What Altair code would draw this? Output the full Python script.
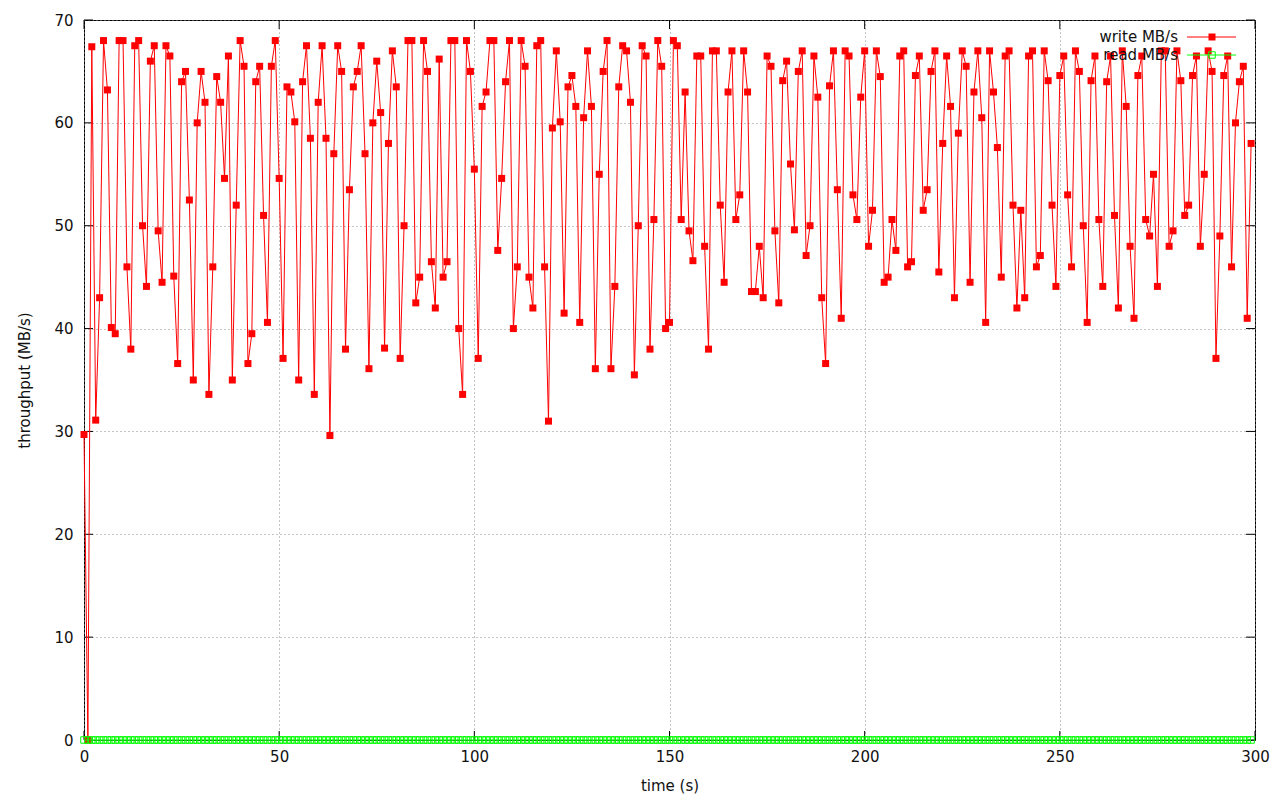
import altair as alt
import pandas as pd

# ---- data ----
time_s = list(range(300))

write_mbs = [
    29.7, 0, 67.4, 31.1, 43, 68, 63.2, 40.1, 39.5, 68,
    68, 46, 38, 67.5, 68, 50, 44.1, 66, 67.5, 49.5,
    44.5, 67.5, 66.5, 45.1, 36.6, 64, 65, 52.5, 35, 60,
    65, 62, 33.6, 46, 64.5, 62, 54.6, 66.5, 35, 52,
    68, 65.5, 36.6, 39.5, 64, 65.5, 51, 40.6, 65.5, 68,
    54.6, 37.1, 63.5, 63, 60.1, 35, 64, 67.5, 58.5, 33.6,
    62, 67.5, 58.5, 29.6, 57, 67.5, 65, 38, 53.5, 63.5,
    65, 67.5, 57, 36.1, 60, 66, 61, 38.1, 58, 67,
    63.5, 37.1, 50, 68, 68, 42.5, 45, 68, 65, 46.5,
    42, 66.2, 45, 46.5, 68, 68, 40, 33.6, 68, 65,
    55.5, 37.1, 61.6, 63, 68, 68, 47.6, 54.6, 64, 68,
    40, 46, 68, 65.5, 45, 42, 67.5, 68, 46, 31,
    59.5, 67, 60.1, 41.5, 63.5, 64.6, 61.6, 40.6, 60.5, 67,
    61.6, 36.1, 55, 65, 68, 36.1, 44.1, 63.5, 67.5, 67,
    62, 35.5, 50, 67.5, 66.5, 38, 50.6, 68, 65.5, 40,
    40.6, 68, 67.5, 50.6, 63, 49.5, 46.6, 66.5, 66.5, 48,
    38, 67, 67, 52, 44.5, 63, 67, 50.6, 53, 67,
    63, 43.6, 43.6, 48, 43, 66.5, 65.5, 49.5, 42.5, 64.1,
    66, 56, 49.6, 65, 67, 47.1, 50, 66.5, 62.5, 43,
    36.6, 63.6, 67, 53.5, 41, 67, 66.5, 53, 50.6, 62.5,
    67, 48, 51.5, 67, 64.5, 44.5, 45, 50.6, 47.6, 66.5,
    67, 46, 46.5, 64.6, 66.5, 51.5, 53.5, 65, 67, 45.5,
    58, 66.5, 61.6, 43, 59, 67, 65.5, 44.5, 63, 67,
    60.5, 40.6, 67, 63, 57.6, 45, 66.5, 67, 52, 42,
    51.5, 43, 66.5, 67, 46, 47.1, 67, 64.1, 52, 44.1,
    64.6, 66.5, 53, 46, 67, 65, 50, 40.6, 64.1, 66.5,
    50.6, 44.1, 64, 66.5, 51, 42, 67, 61.6, 48, 41,
    64.6, 66.5, 50.6, 49, 55, 44.1, 67, 67, 48, 49.5,
    67, 64.1, 51, 52, 64.6, 66.5, 48, 55, 67, 65,
    37.1, 49, 64.6, 66.5, 46, 60, 64, 65.5, 41, 58,
]

read_mbs = [
    0, 0, 0, 0, 0, 0, 0, 0, 0, 0, 0, 0, 0, 0, 0, 0, 0, 0, 0, 0, 0, 0, 0, 0, 0, 0, 0, 0, 0, 0,
    0, 0, 0, 0, 0, 0, 0, 0, 0, 0, 0, 0, 0, 0, 0, 0, 0, 0, 0, 0, 0, 0, 0, 0, 0, 0, 0, 0, 0, 0,
    0, 0, 0, 0, 0, 0, 0, 0, 0, 0, 0, 0, 0, 0, 0, 0, 0, 0, 0, 0, 0, 0, 0, 0, 0, 0, 0, 0, 0, 0,
    0, 0, 0, 0, 0, 0, 0, 0, 0, 0, 0, 0, 0, 0, 0, 0, 0, 0, 0, 0, 0, 0, 0, 0, 0, 0, 0, 0, 0, 0,
    0, 0, 0, 0, 0, 0, 0, 0, 0, 0, 0, 0, 0, 0, 0, 0, 0, 0, 0, 0, 0, 0, 0, 0, 0, 0, 0, 0, 0, 0,
    0, 0, 0, 0, 0, 0, 0, 0, 0, 0, 0, 0, 0, 0, 0, 0, 0, 0, 0, 0, 0, 0, 0, 0, 0, 0, 0, 0, 0, 0,
    0, 0, 0, 0, 0, 0, 0, 0, 0, 0, 0, 0, 0, 0, 0, 0, 0, 0, 0, 0, 0, 0, 0, 0, 0, 0, 0, 0, 0, 0,
    0, 0, 0, 0, 0, 0, 0, 0, 0, 0, 0, 0, 0, 0, 0, 0, 0, 0, 0, 0, 0, 0, 0, 0, 0, 0, 0, 0, 0, 0,
    0, 0, 0, 0, 0, 0, 0, 0, 0, 0, 0, 0, 0, 0, 0, 0, 0, 0, 0, 0, 0, 0, 0, 0, 0, 0, 0, 0, 0, 0,
    0, 0, 0, 0, 0, 0, 0, 0, 0, 0, 0, 0, 0, 0, 0, 0, 0, 0, 0, 0, 0, 0, 0, 0, 0, 0, 0, 0, 0, 0,
]

x_ticks = [0, 50, 100, 150, 200, 250, 300]
y_ticks = [0, 10, 20, 30, 40, 50, 60, 70]
legend_labels = ["write MB/s", "read MB/s"]
x_title = "time (s)"
y_title = "throughput (MB/s)"

# ---- chart ----
W, H = 1171, 720
FONT = "DejaVu Sans"
RED = "#ff0000"
GREEN = "#00ff00"

df = pd.DataFrame({"t": time_s, "write": write_mbs, "read": read_mbs})
xt_df = pd.DataFrame({"v": x_ticks})
yt_df = pd.DataFrame({"v": y_ticks})

xs = alt.Scale(domain=[0, 300], nice=False, zero=False)
ys = alt.Scale(domain=[0, 70], nice=False)

axis_style = dict(
    grid=True, ticks=False, domain=False, labelOverlap=False, format="d",
    gridColor="#8a8a8a", gridDash=[1, 3], gridWidth=1, gridOpacity=1,
    labelFont=FONT, labelFontSize=15, labelColor="#111111",
    titleFont=FONT, titleFontSize=15, titleFontWeight="normal", titleColor="#111111",
)
x_axis = alt.Axis(values=x_ticks, title=x_title, labelFlush=False,
                  labelPadding=9, titlePadding=14, **axis_style)
y_axis = alt.Axis(values=y_ticks, title=y_title,
                  labelPadding=11, titlePadding=21, **axis_style)

X = lambda f: alt.X(f, scale=xs, axis=x_axis, title=x_title)
Y = lambda f: alt.Y(f, scale=ys, axis=y_axis, title=y_title)

base = alt.Chart(df)
write_line = base.mark_line(color=RED, strokeWidth=1).encode(x=X("t:Q"), y=Y("write:Q"))
write_pts = base.mark_point(shape="square", filled=True, size=49, color=RED, opacity=1).encode(
    x=X("t:Q"), y=Y("write:Q"))
read_line = base.mark_line(color=GREEN, strokeWidth=1).encode(x=X("t:Q"), y=Y("read:Q"))
read_pts = base.mark_point(shape="square", filled=False, size=42, color=GREEN,
                           strokeWidth=1, opacity=1).encode(x=X("t:Q"), y=Y("read:Q"))

TL = 9
left_ticks = alt.Chart(yt_df).mark_rule(color="black", strokeWidth=1).encode(
    y=Y("v:Q"), x=alt.value(0), x2=alt.value(TL))
right_ticks = alt.Chart(yt_df).mark_rule(color="black", strokeWidth=1).encode(
    y=Y("v:Q"), x=alt.value(W - TL), x2=alt.value(W))
bottom_ticks = alt.Chart(xt_df).mark_rule(color="black", strokeWidth=1).encode(
    x=X("v:Q"), y=alt.value(H - TL), y2=alt.value(H))
top_ticks = alt.Chart(xt_df).mark_rule(color="black", strokeWidth=1).encode(
    x=X("v:Q"), y=alt.value(0), y2=alt.value(TL))

# legend (top right, inside plot)
leg_layers = []
for i, (lab, col, filled) in enumerate([(legend_labels[0], RED, True), (legend_labels[1], GREEN, False)]):
    ldf = pd.DataFrame({"label": [lab]})
    ly = 17 + i * 18
    leg_layers.append(alt.Chart(ldf).mark_text(align="right", baseline="middle", font=FONT,
                                               fontSize=15, color="#111111").encode(
        text="label:N", x=alt.value(1094), y=alt.value(ly)))
    leg_layers.append(alt.Chart(ldf).mark_rule(color=col, strokeWidth=1).encode(
        x=alt.value(1103), x2=alt.value(1152), y=alt.value(ly)))
    leg_layers.append(alt.Chart(ldf).mark_point(shape="square", filled=filled, size=49 if filled else 42,
                                                color=col, strokeWidth=1, opacity=1).encode(
        x=alt.value(1128), y=alt.value(ly)))

chart = alt.layer(
    left_ticks, right_ticks, bottom_ticks, top_ticks,
    write_line, write_pts, read_line, read_pts,
    *leg_layers,
).properties(
    width=W, height=H,
    padding={"left": 76, "top": 12, "right": 17, "bottom": 56},
    autosize=alt.AutoSizeParams(type="none"),
    background="white",
).configure_view(
    stroke="black", strokeWidth=1
)

chart.save("out.html", embed_options={"renderer": "svg", "actions": False})
